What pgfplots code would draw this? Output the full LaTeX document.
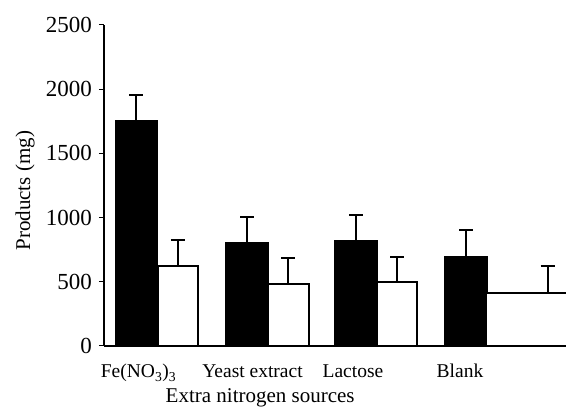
\documentclass[border=0pt]{standalone}
\usepackage{fontspec}
\setmainfont{Liberation Serif}
\usepackage{pgfplots}
\pgfplotsset{compat=1.18}
\pgfplotsset{eb/.style={
    error bars/y dir=plus, error bars/y explicit, error bars/error mark=|,
    error bars/error bar style={line width=2pt, black},
    error bars/error mark options={line width=2pt, mark size=7pt, black}}}
\begin{document}
\begin{tikzpicture}
\useasboundingbox (0pt,0pt) rectangle (566pt,407pt);
\begin{axis}[
  at={(104pt,61pt)}, anchor=south west,
  x=109.3pt, y=0.1284pt,
  xmin=-0.494, xmax=3.733, ymin=0, ymax=2500,
  enlargelimits=false,
  axis x line=bottom, axis y line=left,
  axis line style={-, line width=1.2pt, black},
  ytick={0,500,1000,1500,2000,2500},
  tick align=outside,
  major tick length=5pt,
  ytick style={line width=1pt, black},
  xtick={-0.178,0.865,1.784,2.763},
  xticklabels={Fe(NO\textsubscript{3})\textsubscript{3}, Yeast extract, Lactose, Blank},
  xtick style={draw=none},
  /pgf/number format/assume math mode=true,
  /pgf/number format/1000 sep={},
  yticklabel style={font=\fontsize{23}{25}\selectfont, anchor=east, inner sep=0pt, xshift=-7pt},
  xticklabel style={font=\fontsize{19.5}{22}\selectfont, anchor=base, inner sep=0pt, yshift=-27pt},
  xlabel={Extra nitrogen sources},
  xlabel style={at={(axis description cs:0.338,-0.176)}, anchor=base, inner sep=0pt, font=\fontsize{21}{24}\selectfont},
  ylabel={Products (mg)},
  ylabel style={at={(axis description cs:-0.1598,0.4835)}, anchor=base, inner sep=0pt, font=\fontsize{21}{24}\selectfont},
]
\addplot[ybar, bar width=0.389, bar shift=0, fill=black, draw=black, line width=1pt, eb]
  coordinates {(-0.197,1755) +- (0,200) (0.815,805) +- (0,200) (1.812,825) +- (0,197) (2.818,698) +- (0,203)};
\addplot[ybar, bar width=0.366, bar shift=0, fill=white, draw=black, line width=2pt, eb]
  coordinates {(0.183,623) +- (0,200) (1.194,480) +- (0,203) (2.187,495) +- (0,200)};
\addplot[ybar, bar width=1.129, bar shift=0, fill=white, draw=black, line width=2pt, eb]
  coordinates {(3.565,415) +- (0,205)};
\end{axis}
\end{tikzpicture}
\end{document}
